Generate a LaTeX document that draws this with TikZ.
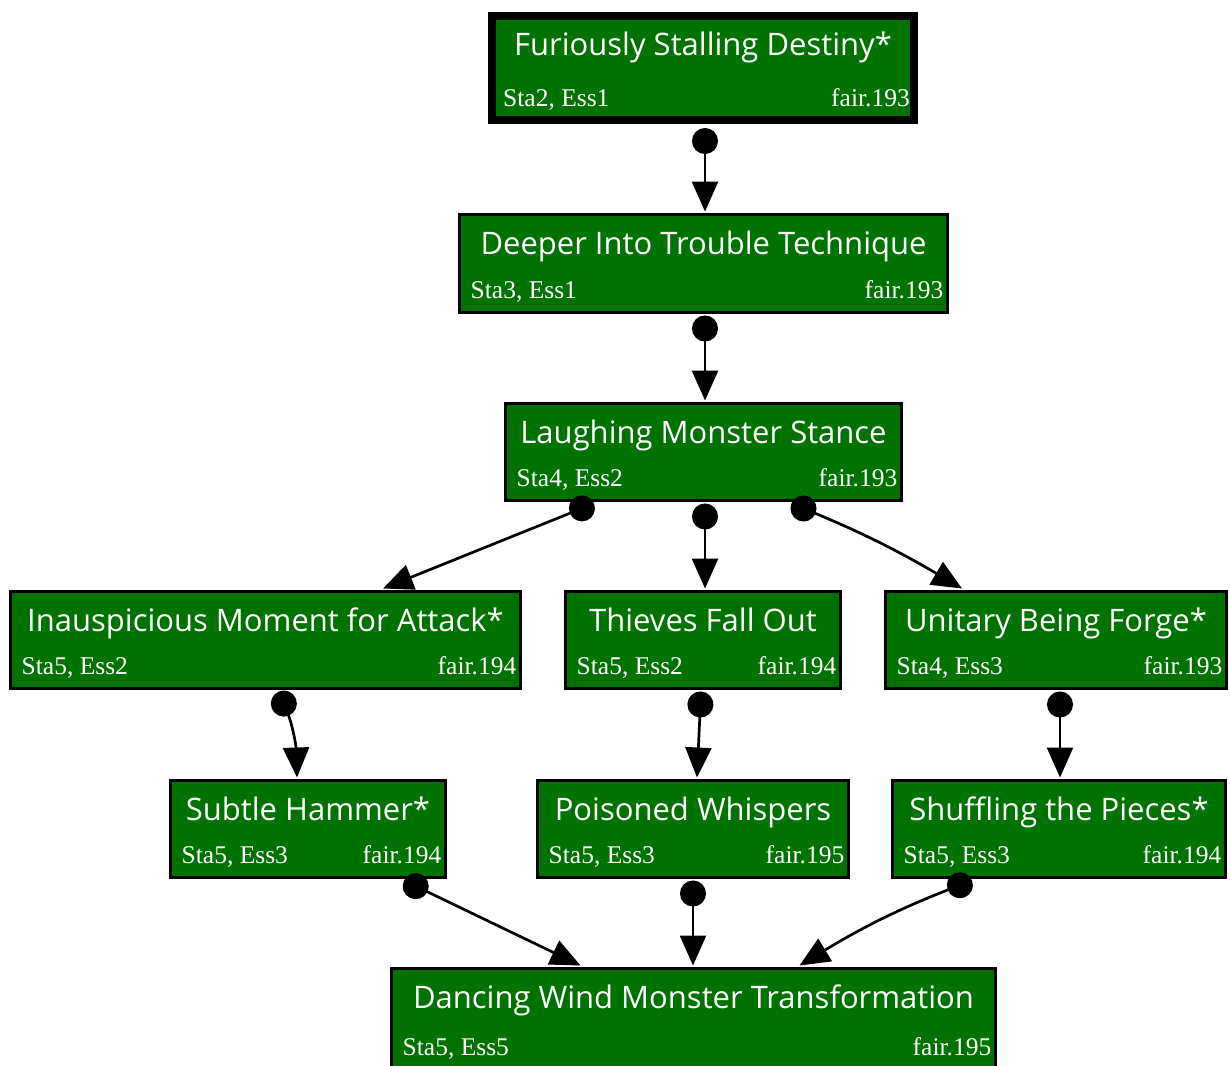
\documentclass[tikz,border=0pt]{standalone}
\usepackage{fontspec}
\newfontfamily\titlefont{Open Sans}
\newfontfamily\footfont{Liberation Serif}
\usetikzlibrary{arrows.meta}
\definecolor{cardgreen}{RGB}{0,114,0}

\tikzset{
  card/.style={draw=black, fill=cardgreen, rectangle, inner sep=0pt},
  cardtitle/.style={text=white, font=\titlefont\fontsize{31}{34}\selectfont, anchor=base, inner sep=0pt},
  cardsub/.style={text=white, font=\footfont\fontsize{25.5}{29}\selectfont, inner sep=0pt},
  link/.style={line width=2.7pt, line cap=butt,
    {Circle[length=26pt,width=26pt]}-{Triangle[length=30pt,width=26pt]}},
}

% #1 name, #2 half border width, #3 x, #4 y (downwards), #5 width, #6 height,
% #7 title, #8 left footer, #9 right footer
\newcommand\card[9]{%
  \node[card, line width=#2pt*2, minimum width=#5pt, minimum height=#6pt] (#1) at (#3pt,-#4pt) {};
  \node[cardtitle] (#1-t) at ([yshift=-40pt-#2pt]#1.north) {#7};
  \node[cardsub, anchor=base west] (#1-l) at ([xshift=11pt+#2pt,yshift=14pt+#2pt]#1.south west) {#8};
  \node[cardsub, anchor=base east] (#1-r) at ([xshift=-4pt-#2pt,yshift=14pt+#2pt]#1.south east) {#9};
}

\begin{document}
\begin{tikzpicture}
\useasboundingbox (0,0) rectangle (1230pt,-1065pt);

\card{n1}{4}{703}{68}{422}{104}{Furiously Stalling Destiny*}{Sta2, Ess1}{fair.193}
\card{n2}{1.5}{703.5}{263.5}{488}{98}{Deeper Into Trouble Technique}{Sta3, Ess1}{fair.193}
\card{n3}{1.5}{703.5}{452}{396}{97}{Laughing Monster Stance}{Sta4, Ess2}{fair.193}
\card{n4}{1.5}{265.5}{640}{510}{97}{Inauspicious Moment for Attack*}{Sta5, Ess2}{fair.194}
\card{n5}{1.5}{703}{640}{275}{97}{Thieves Fall Out}{Sta5, Ess2}{fair.194}
\card{n6}{1.5}{1056}{640}{341}{97}{Unitary Being Forge*}{Sta4, Ess3}{fair.193}
\card{n7}{1.5}{308}{829}{275}{97}{Subtle Hammer*}{Sta5, Ess3}{fair.194}
\card{n8}{1.5}{693}{829}{311}{97}{Poisoned Whispers}{Sta5, Ess3}{fair.195}
\card{n9}{1.5}{1059}{829}{333}{97}{Shuffling the Pieces*}{Sta5, Ess3}{fair.194}
\card{n10}{1.5}{693.5}{1019}{604}{101}{Dancing Wind Monster Transformation}{Sta5, Ess5}{fair.195}

\draw[link] ([xshift=2pt,yshift=-4pt]n1.south) -- ([xshift=1.5pt,yshift=1.5pt]n2.north);
\draw[link] ([xshift=1.5pt,yshift=-1.5pt]n2.south) -- ([xshift=1.5pt,yshift=1.5pt]n3.north);
\draw[link] ([xshift=-109.5pt,yshift=-1.5pt]n3.south) -- ([xshift=117.5pt,yshift=1.5pt]n4.north);
\draw[link] ([xshift=1.5pt,yshift=-1.5pt]n3.south) -- ([xshift=2pt,yshift=1.5pt]n5.north);
\draw[link] ([xshift=88pt,yshift=-1.5pt]n3.south) to[bend left=4] ([xshift=-94pt,yshift=1.5pt]n6.north);
\draw[link] ([xshift=13.5pt,yshift=-1.5pt]n4.south) to[bend left=10] ([xshift=-11pt,yshift=1.5pt]n7.north);
\draw[link] ([xshift=-2pt,yshift=-1.5pt]n5.south) -- ([xshift=4pt,yshift=1.5pt]n8.north);
\draw[link] ([xshift=4pt,yshift=-1.5pt]n6.south) -- ([xshift=1pt,yshift=1.5pt]n9.north);
\draw[link] ([xshift=96pt,yshift=-1.5pt]n7.south) -- ([xshift=-113pt,yshift=1.5pt]n10.north);
\draw[link] ([yshift=-1.5pt]n8.south) -- ([xshift=-0.5pt,yshift=1.5pt]n10.north);
\draw[link] ([xshift=-87pt,yshift=-1.5pt]n9.south) to[bend right=5] ([xshift=106pt,yshift=1.5pt]n10.north);
\end{tikzpicture}
\end{document}
